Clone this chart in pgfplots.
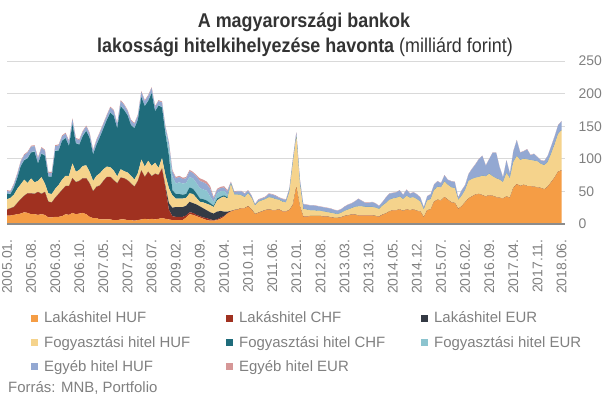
\documentclass[border=0pt]{standalone}
\usepackage{fontspec}
\setmainfont{Liberation Sans}
\newfontfamily\condfont[FakeStretch=0.9]{Liberation Sans}
\usepackage{pgfplots}
\pgfplotsset{compat=1.18}
\usepackage{pgfplotstable}
\definecolor{cLH}{HTML}{F59D45}
\definecolor{cLC}{HTML}{A03120}
\definecolor{cLE}{HTML}{343A44}
\definecolor{cFH}{HTML}{F5D38C}
\definecolor{cFC}{HTML}{1F6C7B}
\definecolor{cFE}{HTML}{8CC4CF}
\definecolor{cEH}{HTML}{93A8D2}
\definecolor{cEE}{HTML}{D69797}
\definecolor{titlecol}{HTML}{333333}
\definecolor{txtgray}{HTML}{808080}
\definecolor{gridgray}{HTML}{D9D9D9}
\definecolor{axisgray}{HTML}{8C8C8C}
\pgfplotstableread{
m LH LC LE FH FC FE EH EE
0 13 9 .3 15.7 8.7 .8 3 1.5
1 13 11 .3 15.7 5.7 .8 3 1.5
2 14 12 .3 18.7 10.7 .8 4 1.5
3 15 17 .3 21.7 16.7 .8 5 1.5
4 16 22 .3 22.7 27.7 .8 6 1.5
5 18 25 .3 24.7 29.7 .8 7 1.5
6 17 30 .3 15.7 37.7 .8 8 1.5
7 15 32 .3 22.7 39.7 .8 8 1.5
8 15 31 .3 17.7 46.7 .8 8 1.5
9 14 35 .3 16.7 26.7 .8 7 1.5
10 15 31 .3 25.7 35.7 .8 8 1.5
11 14 35 .3 12.7 42.7 .8 7 1.5
12 10 24 .3 12.7 25.7 .8 5 1.5
13 10 23 .3 12.7 26.7 .8 5 1.5
14 11 29 .3 13.7 57.7 .8 7 1.5
15 11 35 .3 13.7 52.7 .8 7 1.5
16 12 40 .3 15.7 59.7 .8 6 1.5
17 15 43 .3 15.7 57.7 .8 6 1.5
18 14 44 .3 15.7 45.7 .8 6 1.5
19 17 53 .3 22.7 59.7 .8 7 1.5
20 15 49 .3 15.7 43.7 .8 6 1.5
21 16 50 .3 16.7 38.7 .8 6 1.5
22 17 53 .3 18.7 45.7 .8 6 1.5
23 15 55 .3 19.7 52.7 .8 6 1.5
24 11 51 .3 17.7 51.7 .8 6 1.5
25 9 41 .3 15.7 40.7 .8 5 1.5
26 9 48 .3 16.7 47.7 .8 6 1.5
27 7 52 .3 18.7 55.7 .8 6 1.5
28 7 59 .3 17.7 62.7 .8 6 1.5
29 7 65 .3 15.7 71.7 .8 6 1.5
30 7 65 .3 14.7 83.7 .8 7 1.5
31 6 61 .3 14.7 83.7 .8 7 1.5
32 6 56 .3 10.7 73.7 .8 6 1.5
33 7 64 .3 12.7 96.7 .8 7 1.5
34 7 63 .3 10.7 93.7 .8 7 1.5
35 6 61 .3 11.7 87.7 .8 6 1.5
36 6 56 .3 11.7 77.7 .8 6 1.5
37 5 52 .3 10.7 78.7 .8 6 1.5
38 6 60 .3 11.7 81.7 .8 6 1.5
39 7 75 .3 16.7 95.7 .8 7 1.5
40 8 64 .3 15.7 92.7 .8 7 1.5
41 7 73 .3 16.7 91.7 .8 7 1.5
42 8 65 .3 15.7 111.7 .8 7 1.5
43 7 70 .3 16.7 78.7 .8 6 1.5
44 8 67 .3 10.7 95.7 .8 6 1.5
45 9 76 .3 15.7 77.7 .8 7 1.5
46 8 47 3 17 63 5 5.5 1.5
47 7 15 10 23 50 13 6.5 1.5
48 6 6 13 19 8 21 8 2
49 6 5 15 13 7 16 8 2
50 6 5 15 13 7 18 8 2
51 6 5 15 13 6 17 7 2
52 10 3 15 12 6 17 7 2
53 15 3 16 13 9 16 9 2
54 14 3 15 14 8 16 8 2
55 12 2 16 10 7 16 10 2
56 10 2 15 7 5 16 11 4
57 8 2 14 9 5 15 11 4
58 6 3 12 10 5 15 10 4
59 5 2 11 11 3 10 12 4
60 5 1 10 10 2 6 5 2
61 6 1 12 17 3 8 5 2
62 8 2 10 20 2 8 5 2
63 11 1 7 23 2 7 5 2
64 16 1 2 20 2 3 6 2
65 19 .5 .5 41 .5 .5 2 1
66 21 .3 .3 23.4 .5 .5 3 1
67 22 .2 .2 22.6 .3 .3 4.6 .8
68 24 .2 .2 19.6 .3 .3 5.6 .8
69 24 .2 .2 16.6 .3 .3 4.6 .8
70 27 .2 .2 19.6 .3 .3 3.6 .8
71 22 .2 .2 17.6 .3 .3 2.6 .8
72 15 .2 .2 12.6 .3 .3 1.6 .8
73 17 .2 .2 16.6 .3 .3 2.6 .8
74 19 .2 .2 16.6 .3 .3 2.6 .8
75 21 .2 .2 16.6 .3 .3 2.6 .8
76 22 .2 .2 18.6 .3 .3 4.6 .8
77 21 .2 .2 18.6 .3 .3 4.6 .8
78 21 .2 .2 16.6 .3 .3 4.6 .8
79 22 .2 .2 14.6 .3 .3 2.6 .8
80 19 .2 .2 14.6 .3 .3 3.6 .8
81 19 .2 .2 13.6 .3 .3 3.6 .8
82 21 .2 .2 27.6 .2 .2 5.1 .5
83 29 .2 .2 63.6 .2 .2 6.1 .5
84 56 .2 .2 77.6 .2 .2 6.1 .5
85 27 .2 .2 34.6 .2 .2 7.1 .5
86 11 .2 .2 11.6 .2 .2 7.1 .5
87 11 .2 .2 10.6 .2 .2 7.1 .5
88 12 .2 .2 8.6 .2 .2 7.1 .5
89 12 .2 .2 8.6 .2 .2 7.1 .5
90 12 .2 .2 7.6 .2 .2 7.1 .5
91 12 .2 .2 7.6 .2 .2 6.1 .5
92 11 .2 .2 7.6 .2 .2 6.1 .5
93 11 .2 .2 6.6 .2 .2 6.1 .5
94 10 .2 .2 6.6 .2 .2 6.1 .5
95 9 .2 .2 6.6 .2 .2 5.1 .5
96 9 .2 .2 5.6 .2 .2 5.1 .5
97 10 .2 .2 6.6 .2 .2 5.1 .5
98 12 .2 .2 7.6 .2 .2 6.1 .5
99 13 .2 .2 8.6 .2 .2 7.1 .5
100 14 .2 .2 9.6 .2 .2 7.1 .5
101 14 .2 .2 11.6 .2 .2 8.1 .5
102 13 .2 .2 13.6 .2 .2 11.1 .5
103 13 .2 .2 13.6 .2 .2 8.1 .5
104 13 .2 .2 12.6 .2 .2 6.1 .5
105 13 .2 .2 12.6 .2 .2 6.1 .5
106 13 .2 .2 12.6 .2 .2 7.1 .5
107 12 .2 .2 12.6 .2 .2 6.1 .5
108 11 .2 .2 11.6 .2 .2 4.1 .5
109 14 .2 .2 13.6 .2 .2 5.1 .5
110 16 .1 .1 15.8 .1 .1 8.3 .5
111 19 .1 .1 17.8 .1 .1 9.3 .5
112 21 .1 .1 17.8 .1 .1 8.3 .5
113 21 .1 .1 18.8 .1 .1 8.3 .5
114 22 .1 .1 19.8 .1 .1 9.3 .5
115 20 .1 .1 17.8 .1 .1 6.3 .5
116 22 .1 .1 20.8 .1 .1 9.3 .5
117 21 .1 .1 18.8 .1 .1 6.3 .5
118 22 .1 .1 18.8 .1 .1 7.3 .5
119 20 .1 .1 17.8 .1 .1 7.3 .5
120 19 .1 .1 14.8 .1 .1 6.3 .5
121 10 .1 .1 11.8 .1 .1 3.3 .5
122 21 .1 .1 14.8 .1 .1 6.3 .5
123 22 .1 .1 15.8 .1 .1 7.3 .5
124 34 .1 .1 17.8 .1 .1 8.3 .5
125 37 .1 .1 19.8 .1 .1 8.3 .5
126 36 .1 .1 19.8 .1 .1 6.3 .5
127 41 .1 .1 23.8 .1 .1 9.3 .5
128 37 .1 .1 22.8 .1 .1 7.3 .5
129 33 .1 .1 22.8 .1 .1 9.3 .5
130 32 .1 .1 22.8 .1 .1 9.3 .5
131 23 .1 .1 13.8 .1 .1 3.3 .5
132 27 .1 .1 15.8 .1 .1 8.3 .5
133 33 .1 .1 18.8 .1 .1 7.3 .5
134 39 .1 .1 26.8 .1 .1 10.3 .5
135 42 .1 .1 26.8 .1 .1 15.3 .5
136 45 .1 .1 25.8 .1 .1 20.3 .5
137 46 .1 .1 25.8 .1 .1 27.3 .5
138 44 .1 .1 29.8 .1 .1 30.3 .5
139 42 .1 .1 30.8 .1 .1 16.3 .5
140 44 .1 .1 32.8 .1 .1 22.3 .5
141 43 .1 .1 29.8 .1 .1 36.3 .5
142 41 .1 .1 28.8 .1 .1 39.3 .5
143 40 .1 .1 27.8 .1 .1 19.3 .5
144 39 .1 .1 24.8 .1 .1 7.3 .5
145 42 .1 .1 35.8 .1 .1 19.3 .5
146 40 .1 .1 29.8 .1 .1 7.3 .5
147 55 .1 .1 39.8 .1 .1 16.3 .5
148 61 .1 .1 42.8 .1 .1 24.3 .5
149 58 .1 .1 39.8 .1 .1 11.3 .5
150 60 .1 .1 39.8 .1 .1 11.3 .5
151 58 .1 .1 40.8 .1 .1 15.3 .5
152 58 .1 .1 39.8 .1 .1 7.3 .5
153 57 .1 .1 39.8 .1 .1 10.3 .5
154 56 .1 .1 39.8 .1 .1 6.3 .5
155 55 .1 .1 36.8 .1 .1 5.3 .5
156 53 .1 .1 36.8 .1 .1 6.3 .5
157 57 .1 .1 37.8 .1 .1 9.3 .5
158 64 .1 .1 43.8 .1 .1 11.3 .5
159 71 .1 .1 50.8 .1 .1 12.3 .5
160 80 .1 .1 57.8 .1 .1 13.3 .5
161 82 .1 .1 61.8 .1 .1 13.3 .5
}\data
\begin{document}
\begin{tikzpicture}[x=1bp,y=1bp]
\path[use as bounding box] (0,0) rectangle (605,398);
\node[anchor=base, font=\condfont\bfseries\fontsize{20}{23}\selectfont, text=titlecol, inner sep=0pt] at (304,371) {A magyarországi bankok};
\node[anchor=base, font=\condfont\fontsize{20}{23}\selectfont, text=titlecol, inner sep=0pt] at (305,346) {{\bfseries lakossági hitelkihelyezése havonta} (milliárd forint)};
\begin{axis}[
  at={(7bp,174bp)}, anchor=origin,
  scale only axis, width=558bp, height=163bp,
  xmin=0, xmax=162, ymin=0, ymax=250,
  stack plots=y,
  axis x line*=bottom, axis y line*=right,
  x axis line style={draw=none}, y axis line style={draw=none},
  major tick length=0pt,
  ytick={0,50,100,150,200,250},
  ymajorgrids, grid style={draw=gridgray, line width=0.9bp},
  /pgf/number format/assume math mode=true,
  yticklabel style={font=\fontsize{14}{16}\selectfont, text=txtgray, anchor=west, xshift=10bp},
  xtick={0,7,...,161},
  xticklabels={2005.01.,2005.08.,2006.03.,2006.10.,2007.05.,2007.12.,2008.07.,2009.02.,2009.09.,2010.04.,2010.11.,2011.06.,2012.01.,2012.08.,2013.03.,2013.10.,2014.05.,2014.12.,2015.07.,2016.02.,2016.09.,2017.04.,2017.11.,2018.06.},
  xticklabel style={font=\fontsize{14}{16}\selectfont, text=txtgray, rotate=90, anchor=east},
  xticklabel shift=12bp,
  legend columns=3,
  legend cell align=left,
  legend image code/.code={\fill[#1] (0bp,-3.5bp) rectangle (7bp,3.5bp);},
  legend style={at={(0.043,-0.525)}, anchor=north west, draw=none, fill=none, inner sep=0pt,
    font=\fontsize{15}{18}\selectfont, text=txtgray, row sep=8bp,
    /tikz/every odd column/.append style={column sep=4bp}},
]
\addplot[fill=cLH, draw=none] table[x=m,y=LH]{\data} \closedcycle;
\addlegendentry{\makebox[180bp][l]{Lakáshitel HUF}}
\addplot[fill=cLC, draw=none] table[x=m,y=LC]{\data} \closedcycle;
\addlegendentry{\makebox[180bp][l]{Lakáshitel CHF}}
\addplot[fill=cLE, draw=none] table[x=m,y=LE]{\data} \closedcycle;
\addlegendentry{\makebox[180bp][l]{Lakáshitel EUR}}
\addplot[fill=cFH, draw=none] table[x=m,y=FH]{\data} \closedcycle;
\addlegendentry{\makebox[180bp][l]{Fogyasztási hitel HUF}}
\addplot[fill=cFC, draw=none] table[x=m,y=FC]{\data} \closedcycle;
\addlegendentry{\makebox[180bp][l]{Fogyasztási hitel CHF}}
\addplot[fill=cFE, draw=none] table[x=m,y=FE]{\data} \closedcycle;
\addlegendentry{\makebox[180bp][l]{Fogyasztási hitel EUR}}
\addplot[fill=cEH, draw=none] table[x=m,y=EH]{\data} \closedcycle;
\addlegendentry{\makebox[180bp][l]{Egyéb hitel HUF}}
\addplot[fill=cEE, draw=none] table[x=m,y=EE]{\data} \closedcycle;
\addlegendentry{\makebox[180bp][l]{Egyéb hitel EUR}}
\end{axis}
\begin{axis}[
  at={(7bp,174bp)}, anchor=origin,
  scale only axis, width=558bp, height=163bp,
  xmin=0, xmax=162, ymin=0, ymax=250,
  axis x line*=bottom, axis y line=none,
  x axis line style={draw=axisgray, line width=1.5bp, -},
  xtick=\empty, ytick=\empty,
]
\end{axis}
\node[anchor=base west, font=\fontsize{15}{18}\selectfont, text=txtgray, inner sep=0pt] at (8,6) {Forrás: MNB, Portfolio};
\end{tikzpicture}
\end{document}
